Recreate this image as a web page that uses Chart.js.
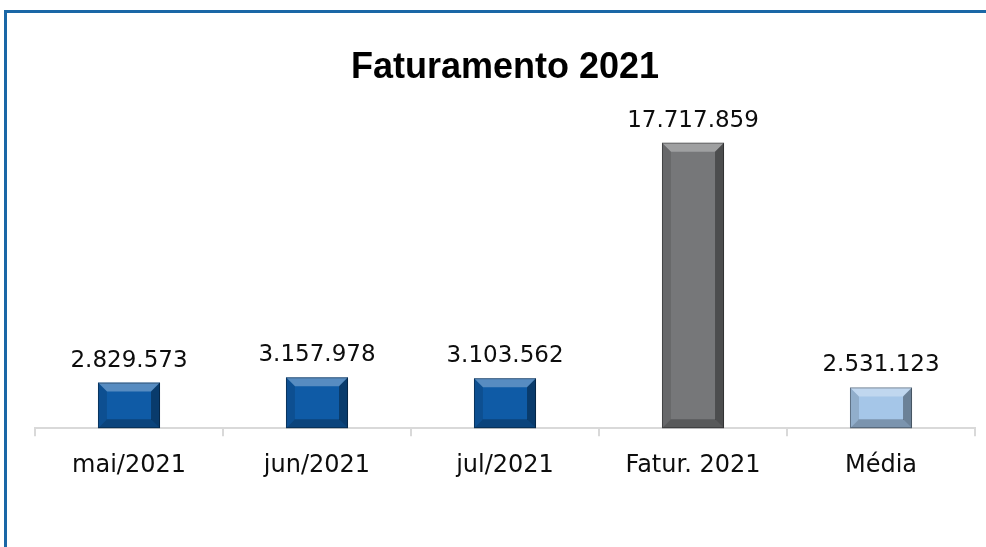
<!DOCTYPE html>
<html lang="pt-BR">
<head>
<meta charset="utf-8">
<title>Faturamento 2021</title>
<script src="https://cdn.jsdelivr.net/npm/chart.js@4.4.1/dist/chart.umd.min.js"></script>
<style>
  html, body { margin: 0; padding: 0; background: #fff; }
  #wrap { position: relative; width: 986px; height: 547px; overflow: hidden; }
  #moldura {
    position: absolute; left: 4px; top: 10px; width: 1000px; height: 560px;
    border-top: 3px solid #1a67a6; border-left: 3px solid #1a67a6;
  }
  canvas { position: absolute; left: 0; top: 0; }
</style>
</head>
<body>
<div id="wrap">
  <div id="moldura"></div>
  <canvas id="chartFaturamento" width="986" height="547"></canvas>
</div>
<script>
// Dados do gráfico
const categorias = ['mai/2021', 'jun/2021', 'jul/2021', 'Fatur. 2021', 'Média'];
const valores = [2829573, 3157978, 3103562, 17717859, 2531123];
const coresBarras = ['#0f5ba6', '#0f5ba6', '#0f5ba6', '#767779', '#a5c6e8'];

// formato 1.234.567
function formatarNumero(v) {
  return String(v).replace(/\B(?=(\d{3})+(?!\d))/g, '.');
}

// efeito de bisel nas barras
const biselPlugin = {
  id: 'bisel',
  afterDatasetsDraw(chart) {
    const ctx = chart.ctx;
    chart.getDatasetMeta(0).data.forEach(bar => {
      const p = bar.getProps(['x', 'y', 'base', 'width'], true);
      const l = p.x - p.width / 2, r = p.x + p.width / 2;
      const t = p.y, b = p.base;
      const e = Math.min(9, p.width / 6, (b - t) / 3);
      ctx.save();
      // topo claro
      ctx.fillStyle = 'rgba(255,255,255,0.30)';
      ctx.beginPath();
      ctx.moveTo(l, t); ctx.lineTo(r, t); ctx.lineTo(r - e, t + e); ctx.lineTo(l + e, t + e);
      ctx.closePath(); ctx.fill();
      // direita escura
      ctx.fillStyle = 'rgba(0,0,0,0.35)';
      ctx.beginPath();
      ctx.moveTo(r, t); ctx.lineTo(r, b); ctx.lineTo(r - e, b - e); ctx.lineTo(r - e, t + e);
      ctx.closePath(); ctx.fill();
      // esquerda
      ctx.fillStyle = 'rgba(0,0,0,0.12)';
      ctx.beginPath();
      ctx.moveTo(l, t); ctx.lineTo(l + e, t + e); ctx.lineTo(l + e, b - e); ctx.lineTo(l, b);
      ctx.closePath(); ctx.fill();
      // base
      ctx.fillStyle = 'rgba(0,0,0,0.25)';
      ctx.beginPath();
      ctx.moveTo(l, b); ctx.lineTo(l + e, b - e); ctx.lineTo(r - e, b - e); ctx.lineTo(r, b);
      ctx.closePath(); ctx.fill();
      // contorno
      ctx.strokeStyle = 'rgba(0,0,0,0.35)';
      ctx.lineWidth = 1;
      ctx.strokeRect(l + 0.5, t + 0.5, p.width - 1, b - t - 1);
      ctx.restore();
    });
  }
};

// rótulos de valor acima das barras
const rotulosPlugin = {
  id: 'rotulos',
  afterDatasetsDraw(chart) {
    const ctx = chart.ctx;
    const ds = chart.data.datasets[0];
    ctx.save();
    ctx.font = '23px "DejaVu Sans"';
    ctx.fillStyle = '#0d0d0d';
    ctx.textAlign = 'center';
    ctx.textBaseline = 'middle';
    chart.getDatasetMeta(0).data.forEach((bar, i) => {
      ctx.fillText(formatarNumero(ds.data[i]), bar.x, bar.y - 22);
    });
    ctx.restore();
  }
};

const ctxFat = document.getElementById('chartFaturamento').getContext('2d');

const chartFaturamento = new Chart(ctxFat, {
  type: 'bar',
  data: {
    labels: categorias,
    datasets: [{
      label: 'Faturamento',
      data: valores,
      backgroundColor: coresBarras,
      borderWidth: 0,
      categoryPercentage: 1,
      barPercentage: 0.33
    }]
  },
  options: {
    responsive: false,
    animation: false,
    layout: {
      padding: { left: 35, right: 11, top: 12, bottom: 52 }
    },
    plugins: {
      legend: { display: false },
      tooltip: { enabled: false },
      title: {
        display: true,
        text: 'Faturamento 2021',
        color: '#000',
        font: { family: '"Liberation Sans"', size: 36, weight: 'bold' },
        padding: { top: 34, bottom: 20 }
      }
    },
    scales: {
      x: {
        grid: {
          display: true,
          drawOnChartArea: false,
          drawTicks: true,
          tickLength: 8,
          color: '#d9d9d9',
          lineWidth: 2
        },
        border: { display: true, color: '#d9d9d9', width: 2 },
        ticks: {
          color: '#0d0d0d',
          padding: 15,
          font: { family: '"DejaVu Sans"', size: 24 }
        }
      },
      y: {
        display: false,
        min: 0,
        max: 19800000
      }
    }
  },
  plugins: [biselPlugin, rotulosPlugin]
});
</script>
</body>
</html>
